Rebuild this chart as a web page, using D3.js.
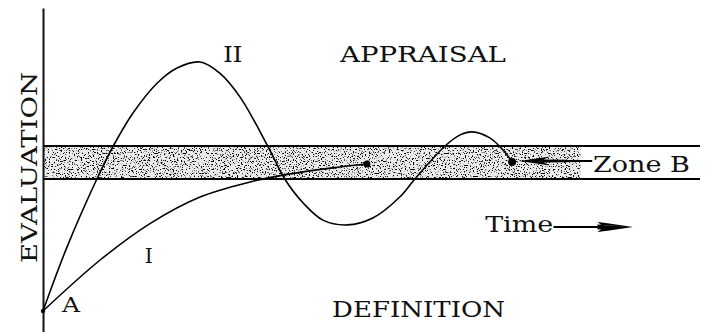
<!DOCTYPE html>
<html><head><meta charset="utf-8">
<script src="https://cdn.jsdelivr.net/npm/d3@7"></script>
<style>
html,body{margin:0;padding:0;background:#fff;}
svg{display:block;}
text{font-family:"DejaVu Serif","Liberation Serif",serif;fill:#111;}
</style></head>
<body>
<svg id="chart" width="707" height="332"></svg>
<script>
// ---- data (time units, evaluation units) ----
const curveITime = [0, 0.87, 1.64, 2.39, 3.15, 3.65, 4.41, 4.93];
const curveIEval = [0, 1.7, 2.93, 3.8, 4.3, 4.53, 4.77, 4.9];
const curveIITime = [0, 0.365, 0.82, 1.07, 1.37, 1.74, 2.04, 2.39, 2.69, 3.0, 3.42, 3.68, 3.96, 4.26, 4.63, 5.02, 5.43, 5.66, 6.12, 6.35, 6.53, 6.80, 7.0, 7.14];
const curveIIEval = [0, 2.13, 4.4, 5.5, 6.6, 7.6, 8.1, 8.3, 7.93, 7.13, 5.5, 4.4, 3.6, 3.03, 2.87, 3.1, 3.8, 4.4, 5.5, 5.87, 5.97, 5.77, 5.37, 4.97];
const zoneB = [4.4, 5.5];          // evaluation band (low, high)
const zoneStippleEnd = 8.18;       // time where the shading stops
const labels = ["A", "I", "II", "APPRAISAL", "DEFINITION", "Time", "Zone B"];
const yTitle = "EVALUATION";

const W = 707, H = 332;
const svg = d3.select("#chart");
const x = d3.scaleLinear().domain([0, 10]).range([43, 700]);
const y = d3.scaleLinear().domain([-0.7, 10.1]).range([332, 8]);

// stipple filter
const defs = svg.append("defs");
const f = defs.append("filter").attr("id", "stip").attr("x", 0).attr("y", 0).attr("width", 1).attr("height", 1)
  .attr("color-interpolation-filters", "sRGB");
f.append("feTurbulence").attr("type", "fractalNoise").attr("baseFrequency", 0.75).attr("numOctaves", 1).attr("seed", 7).attr("result", "n");
f.append("feColorMatrix").attr("in", "n").attr("type", "matrix")
  .attr("values", "0 0 0 0 0  0 0 0 0 0  0 0 0 0 0  -12 0 0 0 5.2").attr("result", "a");
f.append("feComposite").attr("in", "a").attr("in2", "SourceGraphic").attr("operator", "in");

const bandX = x(0), bandY = y(zoneB[1]), bandW = x(zoneStippleEnd) - x(0), bandH = y(zoneB[0]) - y(zoneB[1]);
svg.append("rect").attr("x", bandX).attr("y", bandY).attr("width", bandW).attr("height", bandH)
  .attr("fill", "#000").attr("opacity", 0.08);
svg.append("rect").attr("x", bandX).attr("y", bandY).attr("width", bandW).attr("height", bandH)
  .attr("fill", "#000").attr("filter", "url(#stip)");

// zone lines
zoneB.forEach(v => {
  svg.append("line").attr("x1", x(0)).attr("x2", x(10)).attr("y1", y(v)).attr("y2", y(v))
    .attr("stroke", "#000").attr("stroke-width", 2);
});

// axis
const ax = svg.append("g").attr("transform", `translate(${x(0)},0)`)
  .call(d3.axisLeft(y).tickValues([]).tickSizeOuter(0));
ax.select(".domain").attr("stroke", "#111").attr("stroke-width", 2);

// curves
const line = d3.line().x(d => x(d[0])).y(d => y(d[1])).curve(d3.curveCatmullRom.alpha(0.5));
const cI = curveITime.map((t, i) => [t, curveIEval[i]]);
const cII = curveIITime.map((t, i) => [t, curveIIEval[i]]);
[cI, cII].forEach(c => {
  svg.append("path").attr("d", line(c)).attr("fill", "none").attr("stroke", "#000").attr("stroke-width", 1.6);
});
// endpoints
svg.append("circle").attr("cx", x(cI[cI.length - 1][0])).attr("cy", y(cI[cI.length - 1][1])).attr("r", 3.5).attr("fill", "#000");
svg.append("circle").attr("cx", x(cII[cII.length - 1][0])).attr("cy", y(cII[cII.length - 1][1])).attr("r", 4).attr("fill", "#000");
svg.append("circle").attr("cx", x(0)).attr("cy", y(0)).attr("r", 2.2).attr("fill", "#000");

// labels
const fs = 22;
function lab(txt, t, v, anchor, len, size) {
  const el = svg.append("text").attr("x", x(t)).attr("y", y(v)).attr("text-anchor", anchor || "start")
    .attr("font-size", size || fs).text(txt);
  if (len) el.attr("textLength", len).attr("lengthAdjust", "spacingAndGlyphs");
  return el;
}
lab(labels[0], 0.29, -0.03, "start", 18, 21);
lab(labels[1], 1.61, 1.6, "middle", 8, 21);
lab(labels[2], 2.89, 8.3, "middle", 19);
lab(labels[3], 4.52, 8.3, "start", 166);
lab(labels[4], 4.40, -0.2, "start", 173);
lab(labels[5], 6.73, 2.63, "start", 68);
lab(labels[6], 8.37, 4.63, "start", 97);

// y title
svg.append("text").attr("transform", `translate(37,${(72 + 263) / 2}) rotate(-90)`)
  .attr("text-anchor", "middle").attr("font-size", fs).attr("textLength", 191).attr("lengthAdjust", "spacingAndGlyphs")
  .text(yTitle);

// Zone B arrow (points left to curve II end)
const zy = y(5.0);
svg.append("line").attr("x1", x(8.36)).attr("x2", x(7.9)).attr("y1", zy).attr("y2", zy).attr("stroke", "#000").attr("stroke-width", 2);
svg.append("path").attr("d", `M${x(7.25)},${zy} L${x(7.72)},${zy - 4.5} L${x(7.62)},${zy - 1.5} L${x(7.98)},${zy - 1.2} L${x(7.98)},${zy + 1.2} L${x(7.62)},${zy + 1.5} L${x(7.72)},${zy + 4.5} Z`).attr("fill", "#000");

// Time arrow
const ty = y(2.8);
svg.append("line").attr("x1", x(7.77)).attr("x2", x(8.5)).attr("y1", ty).attr("y2", ty).attr("stroke", "#000").attr("stroke-width", 2);
svg.append("path").attr("d", `M${x(8.98)},${ty} L${x(8.5)},${ty - 2} L${x(8.44)},${ty - 5} L${x(8.62)},${ty - 3.5} Z M${x(8.98)},${ty} L${x(8.5)},${ty + 2} L${x(8.44)},${ty + 5} L${x(8.62)},${ty + 3.5} Z M${x(8.98)},${ty} L${x(8.44)},${ty - 2.5} L${x(8.44)},${ty + 2.5} Z`).attr("fill", "#000");
</script>
</body></html>
